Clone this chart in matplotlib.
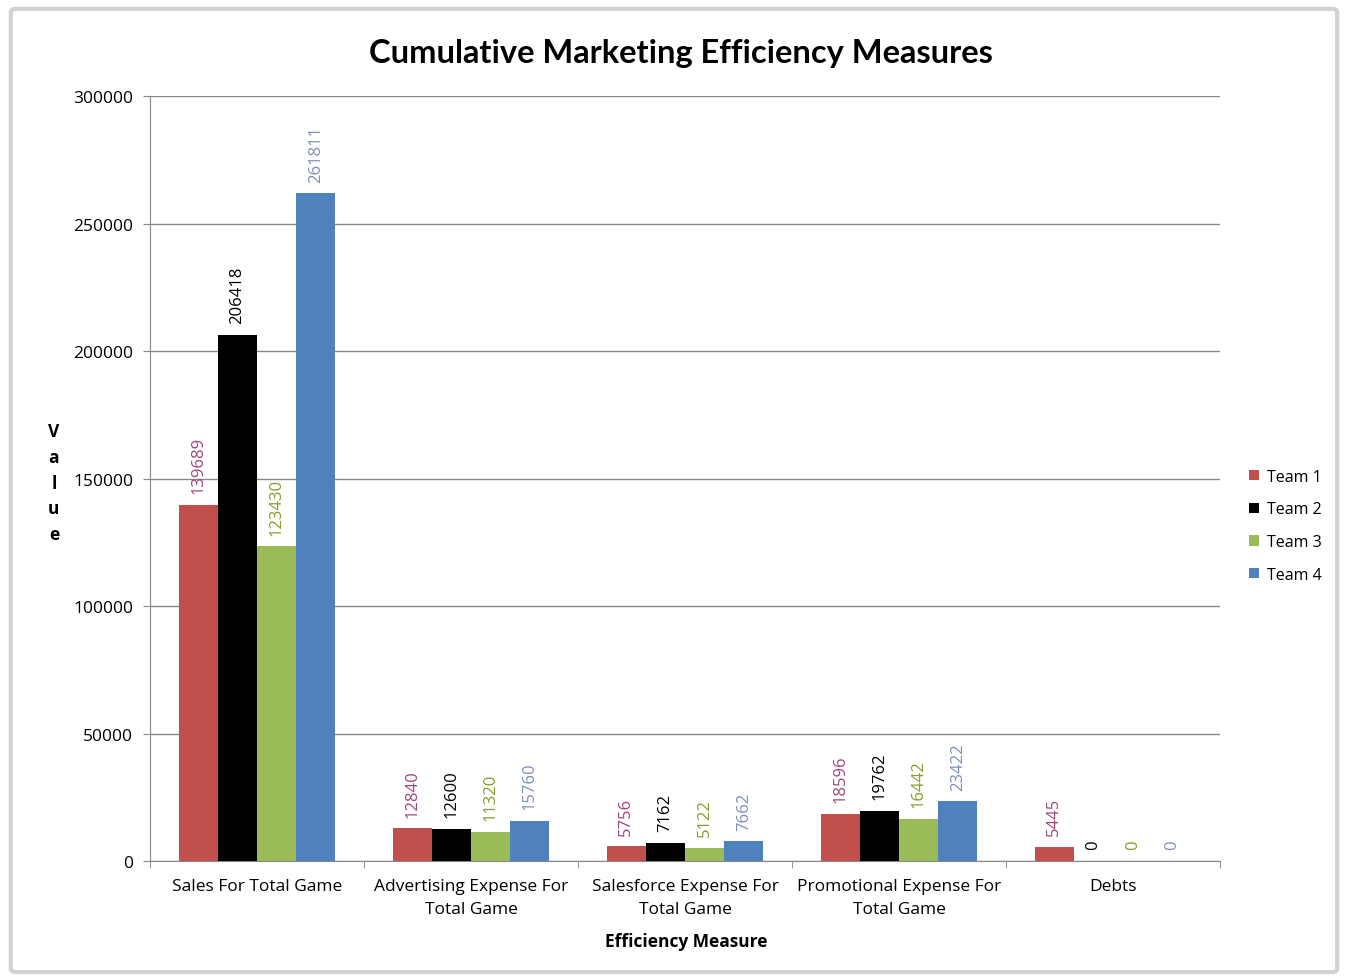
import numpy as np
import matplotlib
matplotlib.use("Agg")
import matplotlib.pyplot as plt
from matplotlib.patches import FancyBboxPatch

# ── data ──────────────────────────────────────────────────────────────────────
categories = [
    "Sales For Total Game",
    "Advertising Expense For\nTotal Game",
    "Salesforce Expense For\nTotal Game",
    "Promotional Expense For\nTotal Game",
    "Debts",
]
teams = ["Team 1", "Team 2", "Team 3", "Team 4"]
team1 = [139689, 12840, 5756, 18596, 5445]
team2 = [206418, 12600, 7162, 19762, 0]
team3 = [123430, 11320, 5122, 16442, 0]
team4 = [261811, 15760, 7662, 23422, 0]
y_ticks = [0, 50000, 100000, 150000, 200000, 250000, 300000]

bar_colors   = ["#c0504d", "#000000", "#9bbb59", "#4f81bd"]
label_colors = ["#a0457f", "#000000", "#8c9a2a", "#7f8fb5"]
AXIS_GRAY = "#888888"
FONT = "Open Sans"

# ── plot ──────────────────────────────────────────────────────────────────────
fig = plt.figure(figsize=(13.48, 9.79), dpi=100)
fig.patch.set_facecolor("white")

# chart-area frame
frame = FancyBboxPatch((0.008, 0.006), 0.984, 0.984,
                       boxstyle="round,pad=0,rounding_size=0.004",
                       transform=fig.transFigure, facecolor="none",
                       edgecolor="#d2d2d2", linewidth=3.0, zorder=-1)
fig.patches.append(frame)

ax = fig.add_axes([0.1113, 0.1195, 0.7938, 0.7814])
ax.set_facecolor("none")

x = np.arange(len(categories))
width = 0.183
series = [team1, team2, team3, team4]
for i, (vals, name) in enumerate(zip(series, teams)):
    pos = x + (i - 1.5) * width
    bars = ax.bar(pos, vals, width, color=bar_colors[i], label=name, zorder=3)
    for b, v in zip(bars, vals):
        ax.text(b.get_x() + b.get_width() / 2, v + 4600, f"{v}",
                rotation=90, ha="center", va="bottom", fontsize=12,
                color=label_colors[i], family=FONT, zorder=4)

ax.set_xlim(-0.5, len(categories) - 0.5)
ax.set_ylim(0, 300000)
ax.set_yticks(y_ticks)
ax.set_yticklabels([str(t) for t in y_ticks], fontsize=12.5, family=FONT)
ax.yaxis.grid(True, color=AXIS_GRAY, linewidth=1, zorder=0)
ax.set_axisbelow(True)

ax.set_xticks(x)
ax.set_xticklabels(categories, fontsize=12.5, family=FONT, linespacing=1.6)
ax.tick_params(axis="x", length=0, pad=12)
ax.set_xticks(np.arange(-0.5, len(categories)), minor=True)
ax.tick_params(axis="x", which="minor", length=5, color=AXIS_GRAY)
ax.tick_params(axis="y", length=5, color=AXIS_GRAY, pad=7)

for side in ("top", "right"):
    ax.spines[side].set_visible(False)
for side in ("left", "bottom"):
    ax.spines[side].set_color(AXIS_GRAY)

fig.suptitle("Cumulative Marketing Efficiency Measures", x=0.505, y=0.960,
             fontsize=23.5, fontweight="bold", family="Lato")

fig.text(0.509, 0.038, "Efficiency Measure", ha="center", va="center",
         fontsize=12.5, fontweight="bold", family=FONT)
fig.text(0.040, 0.506, "V\na\nl\nu\ne", ha="center", va="center",
         fontsize=12.5, fontweight="bold", family=FONT, linespacing=1.55)

leg = fig.legend(loc="center left", bbox_to_anchor=(0.916, 0.462), frameon=False,
                 handlelength=0.6, handleheight=0.6, handletextpad=0.5,
                 labelspacing=1.05, prop={"family": FONT, "size": 11.5})

plt.savefig("out.png", dpi=100, facecolor=fig.get_facecolor())
plt.close()
